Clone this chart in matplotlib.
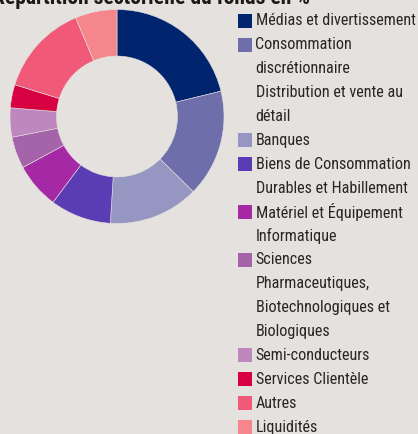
import matplotlib.pyplot as plt
from matplotlib.patches import Rectangle

# sector weights (%) read from the donut, clockwise from 12 o'clock
sectors = [
    "Médias et divertissement",
    "Consommation\ndiscrétionnaire\nDistribution et vente au\ndétail",
    "Banques",
    "Biens de Consommation\nDurables et Habillement",
    "Matériel et Équipement\nInformatique",
    "Sciences\nPharmaceutiques,\nBiotechnologiques et\nBiologiques",
    "Semi-conducteurs",
    "Services Clientèle",
    "Autres",
    "Liquidités",
]
weights = [21.2, 16.2, 13.6, 9.2, 6.9, 4.8, 4.4, 3.5, 13.9, 6.3]
colors = ["#00246e", "#6e6eaa", "#9696c3", "#5a3cb4", "#a528a5",
          "#a564aa", "#be87be", "#d70041", "#f05a78", "#f5878c"]

bg = "#e5e1de"
txt = "#262626"
font = ["Roboto Condensed", "DejaVu Sans"]

W, H = 418, 434
fig = plt.figure(figsize=(W / 100, H / 100), dpi=100)
fig.patch.set_facecolor(bg)

# title, mostly cut off at the top like the source
fig.text(-7 / W, 1 - 4 / H, "Répartition sectorielle du fonds en %", fontsize=15.5,
         fontweight="bold", stretch="condensed", color="#1a1a1a", family=font,
         va="baseline", ha="left")

# donut
cx, cy, r = 117, 116.5, 107
ax = fig.add_axes([(cx - r) / W, 1 - (cy + r) / H, 2 * r / W, 2 * r / H])
ax.pie(weights, colors=colors, startangle=90, counterclock=False,
       wedgeprops=dict(width=0.435, edgecolor=bg, linewidth=0.4))
ax.set_xlim(-1, 1)
ax.set_ylim(-1, 1)
ax.set_aspect("equal")
ax.axis("off")

# legend drawn by hand so wrapped labels line up like the original
y0, step = 20.8, 23.9
line = 0
for lab, col in zip(sectors, colors):
    y = y0 + line * step
    fig.patches.append(Rectangle((237.5 / W, 1 - (y + 7) / H), 14 / W, 14 / H,
                                 transform=fig.transFigure, facecolor=col,
                                 edgecolor="none"))
    for part in lab.split("\n"):
        fig.text(255.5 / W, 1 - (y0 + line * step) / H, part, fontsize=11.6,
                 stretch="condensed", color=txt, family=font,
                 va="center", ha="left")
        line += 1

fig.savefig("out.png", dpi=100, facecolor=bg)
